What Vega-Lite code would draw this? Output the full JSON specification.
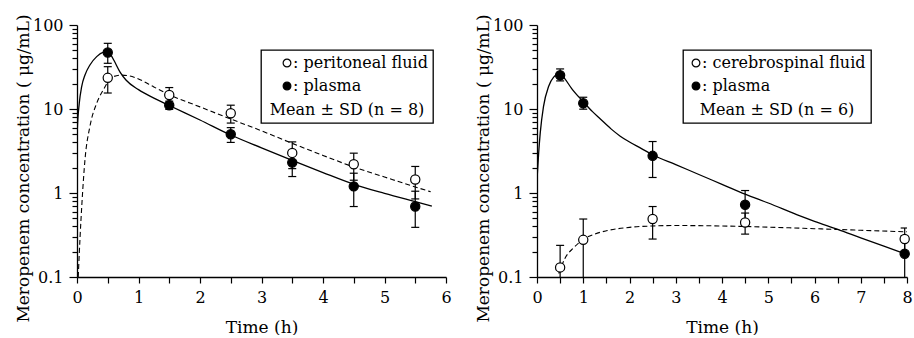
{
  "$schema": "https://vega.github.io/schema/vega-lite/v6.json",
  "padding": {"left": 14, "top": 13, "right": 0, "bottom": 0},
  "spacing": 91,
  "bounds": "flush",
  "config": {
    "font": "DejaVu Serif",
    "view": {"stroke": null},
    "axis": {"domainColor": "black", "domainWidth": 1.3, "tickColor": "black", "tickWidth": 1.2, "labelColor": "black", "labelFont": "DejaVu Serif", "labelFontSize": 16, "titleFont": "DejaVu Serif", "titleFontSize": 17, "titleFontWeight": "normal", "titleColor": "black", "grid": false, "labelFlush": false, "labelOverlap": false},
    "legend": {"labelFont": "DejaVu Serif", "labelFontSize": 16, "labelColor": "black", "titleFont": "DejaVu Serif", "titleFontSize": 16, "titleFontWeight": "normal", "titleColor": "black", "strokeWidth": 1.3, "titleLimit": 400, "labelLimit": 400}
  },
  "resolve": {"scale": {"x": "independent", "y": "independent", "fill": "independent"}, "legend": {"fill": "independent"}, "axis": {"x": "independent", "y": "independent"}},
  "datasets": {
    "ptsL": [
      {"t": 0.5, "m": 23.5, "lo": 15.5, "hi": 31.9, "s": "peritoneal fluid"},
      {"t": 1.5, "m": 14.7, "lo": 11.4, "hi": 18.0, "s": "peritoneal fluid"},
      {"t": 2.5, "m": 8.9, "lo": 6.8, "hi": 11.1, "s": "peritoneal fluid"},
      {"t": 3.5, "m": 3.0, "lo": 1.95, "hi": 4.06, "s": "peritoneal fluid"},
      {"t": 4.5, "m": 2.2, "lo": 1.42, "hi": 2.98, "s": "peritoneal fluid"},
      {"t": 5.5, "m": 1.45, "lo": 0.85, "hi": 2.07, "s": "peritoneal fluid"},
      {"t": 0.5, "m": 47, "lo": 35, "hi": 60.5, "s": "plasma"},
      {"t": 1.5, "m": 11.1, "lo": 9.9, "hi": 12.4, "s": "plasma"},
      {"t": 2.5, "m": 5.0, "lo": 4.0, "hi": 6.0, "s": "plasma"},
      {"t": 3.5, "m": 2.3, "lo": 1.57, "hi": 3.05, "s": "plasma"},
      {"t": 4.5, "m": 1.2, "lo": 0.69, "hi": 1.72, "s": "plasma"},
      {"t": 5.5, "m": 0.69, "lo": 0.39, "hi": 1.05, "s": "plasma"}
    ],
    "curveL": [
      {"t": 0.02, "m": 0.1, "s": "fluid"},
      {"t": 0.05, "m": 0.3, "s": "fluid"},
      {"t": 0.08, "m": 0.75, "s": "fluid"},
      {"t": 0.13, "m": 2.5, "s": "fluid"},
      {"t": 0.21, "m": 6.2, "s": "fluid"},
      {"t": 0.32, "m": 11.7, "s": "fluid"},
      {"t": 0.43, "m": 17, "s": "fluid"},
      {"t": 0.55, "m": 23.3, "s": "fluid"},
      {"t": 0.7, "m": 25.3, "s": "fluid"},
      {"t": 0.85, "m": 24.8, "s": "fluid"},
      {"t": 1.0, "m": 22.8, "s": "fluid"},
      {"t": 1.25, "m": 18.3, "s": "fluid"},
      {"t": 1.5, "m": 14.8, "s": "fluid"},
      {"t": 2.0, "m": 10.6, "s": "fluid"},
      {"t": 2.5, "m": 7.6, "s": "fluid"},
      {"t": 3.0, "m": 5.5, "s": "fluid"},
      {"t": 3.5, "m": 3.9, "s": "fluid"},
      {"t": 4.0, "m": 2.8, "s": "fluid"},
      {"t": 4.5, "m": 2.04, "s": "fluid"},
      {"t": 5.0, "m": 1.55, "s": "fluid"},
      {"t": 5.5, "m": 1.18, "s": "fluid"},
      {"t": 5.75, "m": 1.035, "s": "fluid"},
      {"t": 0.0, "m": 4, "s": "plasma"},
      {"t": 0.005, "m": 5.6, "s": "plasma"},
      {"t": 0.037, "m": 11.7, "s": "plasma"},
      {"t": 0.076, "m": 18.5, "s": "plasma"},
      {"t": 0.13, "m": 25.4, "s": "plasma"},
      {"t": 0.21, "m": 33.4, "s": "plasma"},
      {"t": 0.32, "m": 42, "s": "plasma"},
      {"t": 0.43, "m": 47.4, "s": "plasma"},
      {"t": 0.49, "m": 48, "s": "plasma"},
      {"t": 0.55, "m": 44, "s": "plasma"},
      {"t": 0.6, "m": 38, "s": "plasma"},
      {"t": 0.7, "m": 27.5, "s": "plasma"},
      {"t": 0.8, "m": 22, "s": "plasma"},
      {"t": 1.0, "m": 17.0, "s": "plasma"},
      {"t": 1.25, "m": 13.5, "s": "plasma"},
      {"t": 1.5, "m": 11.0, "s": "plasma"},
      {"t": 2.0, "m": 7.4, "s": "plasma"},
      {"t": 2.5, "m": 4.9, "s": "plasma"},
      {"t": 3.0, "m": 3.45, "s": "plasma"},
      {"t": 3.5, "m": 2.45, "s": "plasma"},
      {"t": 4.0, "m": 1.75, "s": "plasma"},
      {"t": 4.5, "m": 1.27, "s": "plasma"},
      {"t": 5.0, "m": 0.99, "s": "plasma"},
      {"t": 5.5, "m": 0.79, "s": "plasma"},
      {"t": 5.77, "m": 0.7, "s": "plasma"}
    ],
    "ptsR": [
      {"t": 0.5, "m": 0.13, "lo": 0.02, "hi": 0.238, "s": "cerebrospinal fluid"},
      {"t": 1.0, "m": 0.277, "lo": 0.07, "hi": 0.49, "s": "cerebrospinal fluid"},
      {"t": 2.5, "m": 0.49, "lo": 0.283, "hi": 0.69, "s": "cerebrospinal fluid"},
      {"t": 4.5, "m": 0.446, "lo": 0.324, "hi": 0.577, "s": "cerebrospinal fluid"},
      {"t": 7.95, "m": 0.283, "lo": 0.183, "hi": 0.383, "s": "cerebrospinal fluid"},
      {"t": 0.5, "m": 25.2, "lo": 21.6, "hi": 30, "s": "plasma"},
      {"t": 1.0, "m": 11.7, "lo": 9.95, "hi": 13.8, "s": "plasma"},
      {"t": 2.5, "m": 2.77, "lo": 1.53, "hi": 4.1, "s": "plasma"},
      {"t": 4.5, "m": 0.724, "lo": 0.45, "hi": 1.07, "s": "plasma"},
      {"t": 7.95, "m": 0.189, "lo": 0.07, "hi": 0.31, "s": "plasma"}
    ],
    "curveR": [
      {"t": 0.47, "m": 0.11, "s": "fluid"},
      {"t": 0.6, "m": 0.165, "s": "fluid"},
      {"t": 0.8, "m": 0.225, "s": "fluid"},
      {"t": 1.0, "m": 0.28, "s": "fluid"},
      {"t": 1.25, "m": 0.325, "s": "fluid"},
      {"t": 1.5, "m": 0.355, "s": "fluid"},
      {"t": 2.0, "m": 0.39, "s": "fluid"},
      {"t": 2.5, "m": 0.405, "s": "fluid"},
      {"t": 3.0, "m": 0.41, "s": "fluid"},
      {"t": 4.0, "m": 0.405, "s": "fluid"},
      {"t": 5.0, "m": 0.392, "s": "fluid"},
      {"t": 6.0, "m": 0.376, "s": "fluid"},
      {"t": 7.0, "m": 0.36, "s": "fluid"},
      {"t": 8.0, "m": 0.345, "s": "fluid"},
      {"t": 0.0, "m": 1.44, "s": "plasma"},
      {"t": 0.036, "m": 3.0, "s": "plasma"},
      {"t": 0.07, "m": 5.2, "s": "plasma"},
      {"t": 0.14, "m": 10.7, "s": "plasma"},
      {"t": 0.25, "m": 18.5, "s": "plasma"},
      {"t": 0.36, "m": 24, "s": "plasma"},
      {"t": 0.5, "m": 26.5, "s": "plasma"},
      {"t": 0.6, "m": 23, "s": "plasma"},
      {"t": 0.75, "m": 17.5, "s": "plasma"},
      {"t": 1.0, "m": 12.2, "s": "plasma"},
      {"t": 1.2, "m": 9.3, "s": "plasma"},
      {"t": 1.37, "m": 7.6, "s": "plasma"},
      {"t": 1.6, "m": 5.8, "s": "plasma"},
      {"t": 1.8, "m": 4.75, "s": "plasma"},
      {"t": 2.0, "m": 4.05, "s": "plasma"},
      {"t": 2.25, "m": 3.4, "s": "plasma"},
      {"t": 2.5, "m": 2.85, "s": "plasma"},
      {"t": 3.0, "m": 2.18, "s": "plasma"},
      {"t": 3.5, "m": 1.66, "s": "plasma"},
      {"t": 4.0, "m": 1.27, "s": "plasma"},
      {"t": 4.5, "m": 0.97, "s": "plasma"},
      {"t": 5.0, "m": 0.76, "s": "plasma"},
      {"t": 5.7, "m": 0.53, "s": "plasma"},
      {"t": 6.0, "m": 0.46, "s": "plasma"},
      {"t": 6.5, "m": 0.37, "s": "plasma"},
      {"t": 7.0, "m": 0.293, "s": "plasma"},
      {"t": 7.5, "m": 0.233, "s": "plasma"},
      {"t": 7.95, "m": 0.19, "s": "plasma"}
    ]
  },
  "hconcat": [
    {
      "width": 369,
      "height": 252,
      "encoding": {
        "x": {"field": "t", "type": "quantitative", "scale": {"domain": [0, 6], "nice": false},
          "axis": {"values": [0, 0.5, 1, 1.5, 2, 2.5, 3, 3.5, 4, 4.5, 5, 5.5, 6], "format": "~g", "labelExpr": "datum.value % 1 == 0 ? datum.label : ''", "tickSize": 6, "labelPadding": 6, "title": "Time (h)", "titleY": 55, "titleBaseline": "alphabetic"}},
        "y": {"field": "m", "type": "quantitative", "scale": {"type": "log", "domain": [0.1, 100]},
          "axis": {"values": [0.1, 0.2, 0.3, 0.4, 0.5, 0.6, 0.7, 0.8, 0.9, 1, 2, 3, 4, 5, 6, 7, 8, 9, 10, 20, 30, 40, 50, 60, 70, 80, 90, 100], "format": "~g", "labelExpr": "indexof([0.1,1,10,100], datum.value) >= 0 ? datum.label : ''", "tickSize": {"condition": {"test": "indexof([0.1,1,10,100], datum.value) >= 0", "value": 8}, "value": 5}, "labelPadding": 6, "title": "Meropenem concentration ( μg/mL)", "titleX": -49, "titleY": 143, "titleBaseline": "alphabetic"}}
      },
      "layer": [
        {"data": {"name": "curveL"}, "transform": [{"filter": "datum.s == 'fluid'"}], "mark": {"type": "line", "color": "black", "strokeWidth": 1.1, "strokeDash": [5, 3], "clip": true, "interpolate": "monotone"}},
        {"data": {"name": "curveL"}, "transform": [{"filter": "datum.s == 'plasma'"}], "mark": {"type": "line", "color": "black", "strokeWidth": 1.3, "clip": true, "interpolate": "monotone"}},
        {"data": {"name": "ptsL"}, "mark": {"type": "rule", "color": "black", "strokeWidth": 1.2, "clip": true},
          "encoding": {"y": {"field": "lo", "type": "quantitative", "scale": {"type": "log", "domain": [0.1, 100]}}, "y2": {"field": "hi"}}},
        {"data": {"name": "ptsL"}, "mark": {"type": "tick", "orient": "horizontal", "size": 8, "thickness": 1.2, "color": "black", "opacity": 1, "clip": true},
          "encoding": {"y": {"field": "lo", "type": "quantitative", "scale": {"type": "log", "domain": [0.1, 100]}}}},
        {"data": {"name": "ptsL"}, "mark": {"type": "tick", "orient": "horizontal", "size": 8, "thickness": 1.2, "color": "black", "opacity": 1, "clip": true},
          "encoding": {"y": {"field": "hi", "type": "quantitative", "scale": {"type": "log", "domain": [0.1, 100]}}}},
        {"data": {"name": "ptsL"}, "mark": {"type": "point", "shape": "circle", "size": 85, "stroke": "black", "strokeWidth": 1.2, "opacity": 1},
          "encoding": {"fill": {"field": "s", "type": "nominal", "scale": {"domain": ["peritoneal fluid", "plasma"], "range": ["white", "black"]},
            "legend": {"orient": "none", "legendX": 184, "legendY": 25, "direction": "vertical", "title": "Mean ± SD (n = 8)", "titleOrient": "bottom", "titleAnchor": "middle", "labelExpr": "': ' + datum.label + '\u00a0\u00a0'", "symbolType": "circle", "symbolSize": 60, "symbolStrokeColor": "black", "symbolStrokeWidth": 1.2, "symbolOffset": 13, "labelOffset": -2, "padding": 5, "rowPadding": 7, "titlePadding": 8, "strokeColor": "black", "fillColor": "white"}}}}
      ]
    },
    {
      "width": 370,
      "height": 252,
      "encoding": {
        "x": {"field": "t", "type": "quantitative", "scale": {"domain": [0, 8], "nice": false},
          "axis": {"values": [0, 0.5, 1, 1.5, 2, 2.5, 3, 3.5, 4, 4.5, 5, 5.5, 6, 6.5, 7, 7.5, 8], "format": "~g", "labelExpr": "datum.value % 1 == 0 ? datum.label : ''", "tickSize": 6, "labelPadding": 6, "title": "Time (h)", "titleY": 55, "titleBaseline": "alphabetic"}},
        "y": {"field": "m", "type": "quantitative", "scale": {"type": "log", "domain": [0.1, 100]},
          "axis": {"values": [0.1, 0.2, 0.3, 0.4, 0.5, 0.6, 0.7, 0.8, 0.9, 1, 2, 3, 4, 5, 6, 7, 8, 9, 10, 20, 30, 40, 50, 60, 70, 80, 90, 100], "format": "~g", "labelExpr": "indexof([0.1,1,10,100], datum.value) >= 0 ? datum.label : ''", "tickSize": {"condition": {"test": "indexof([0.1,1,10,100], datum.value) >= 0", "value": 8}, "value": 5}, "labelPadding": 6, "title": "Meropenem concentration ( μg/mL)", "titleX": -49, "titleY": 143, "titleBaseline": "alphabetic"}}
      },
      "layer": [
        {"data": {"name": "curveR"}, "transform": [{"filter": "datum.s == 'fluid'"}], "mark": {"type": "line", "color": "black", "strokeWidth": 1.1, "strokeDash": [5, 3], "clip": true, "interpolate": "monotone"}},
        {"data": {"name": "curveR"}, "transform": [{"filter": "datum.s == 'plasma'"}], "mark": {"type": "line", "color": "black", "strokeWidth": 1.3, "clip": true, "interpolate": "monotone"}},
        {"data": {"name": "ptsR"}, "mark": {"type": "rule", "color": "black", "strokeWidth": 1.2, "clip": true},
          "encoding": {"y": {"field": "lo", "type": "quantitative", "scale": {"type": "log", "domain": [0.1, 100]}}, "y2": {"field": "hi"}}},
        {"data": {"name": "ptsR"}, "mark": {"type": "tick", "orient": "horizontal", "size": 8, "thickness": 1.2, "color": "black", "opacity": 1, "clip": true},
          "encoding": {"y": {"field": "lo", "type": "quantitative", "scale": {"type": "log", "domain": [0.1, 100]}}}},
        {"data": {"name": "ptsR"}, "mark": {"type": "tick", "orient": "horizontal", "size": 8, "thickness": 1.2, "color": "black", "opacity": 1, "clip": true},
          "encoding": {"y": {"field": "hi", "type": "quantitative", "scale": {"type": "log", "domain": [0.1, 100]}}}},
        {"data": {"name": "ptsR"}, "mark": {"type": "point", "shape": "circle", "size": 85, "stroke": "black", "strokeWidth": 1.2, "opacity": 1},
          "encoding": {"fill": {"field": "s", "type": "nominal", "scale": {"domain": ["cerebrospinal fluid", "plasma"], "range": ["white", "black"]},
            "legend": {"orient": "none", "legendX": 146, "legendY": 25, "direction": "vertical", "title": "Mean ± SD (n = 6)", "titleOrient": "bottom", "titleAnchor": "middle", "labelExpr": "': ' + datum.label", "symbolType": "circle", "symbolSize": 60, "symbolStrokeColor": "black", "symbolStrokeWidth": 1.2, "symbolOffset": 0, "labelOffset": -2, "padding": 5, "rowPadding": 7, "titlePadding": 8, "strokeColor": "black", "fillColor": "white"}}}}
      ]
    }
  ]
}
